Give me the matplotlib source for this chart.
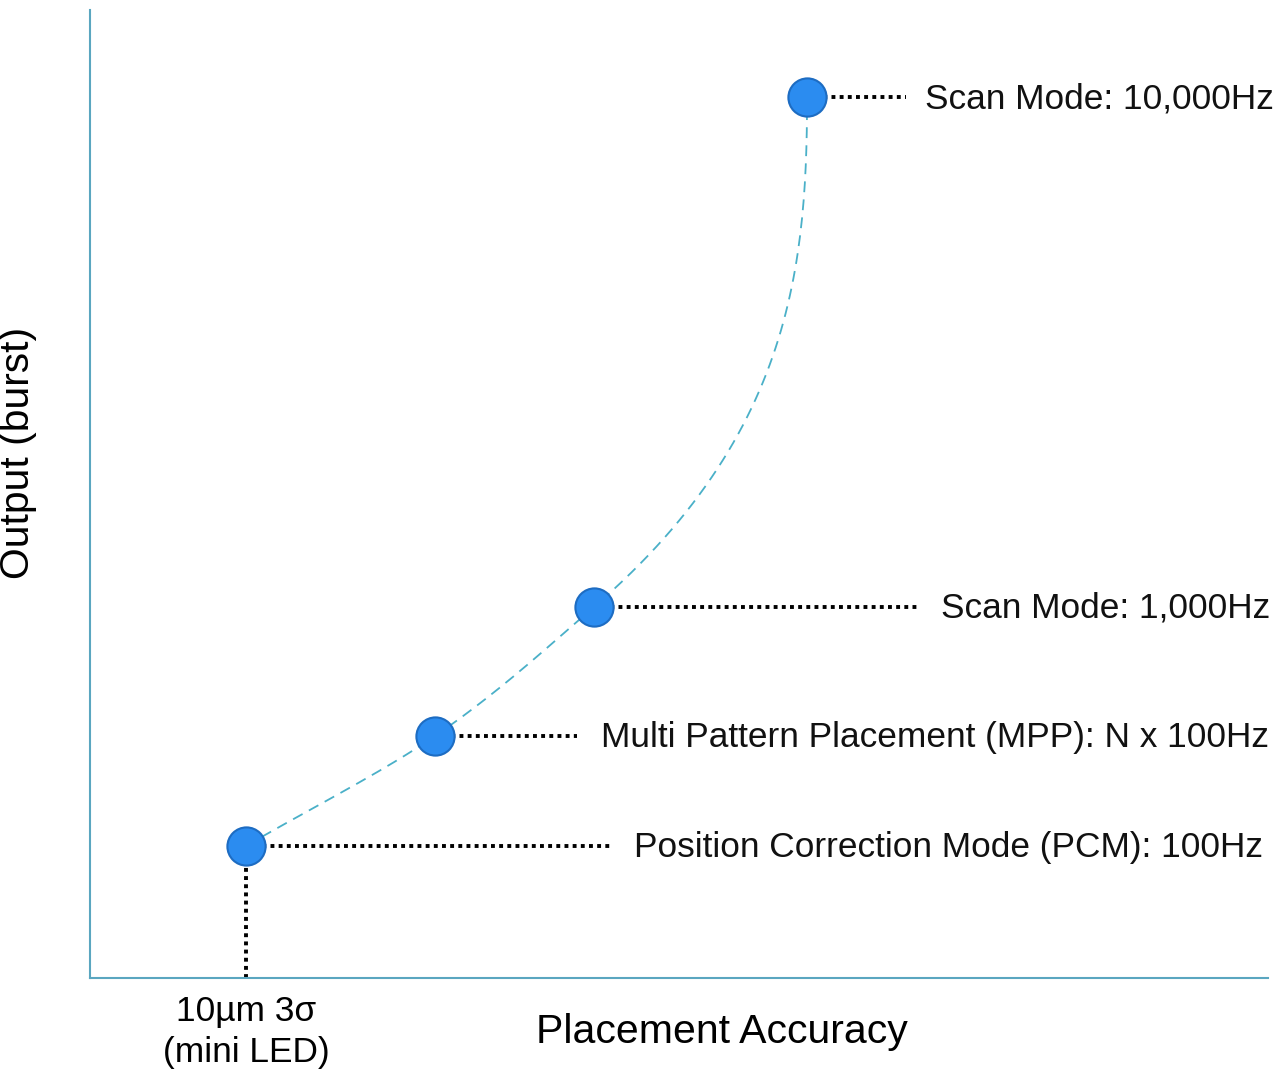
import numpy as np
import matplotlib
matplotlib.use("Agg")
import matplotlib.pyplot as plt

plt.rcParams['font.family'] = ['Liberation Sans', 'DejaVu Sans']

# data (arbitrary units, axes 0..100)
labels = ["Position Correction Mode (PCM): 100Hz",
          "Multi Pattern Placement (MPP): N x 100Hz",
          "Scan Mode: 1,000Hz",
          "Scan Mode: 10,000Hz"]
accuracy = [13.24, 29.29, 42.78, 60.87]
output = [13.64, 25.0, 38.33, 91.0]
leader_end = [44.4, 41.3, 70.5, 69.3]
label_x = [46.2, 43.4, 72.2, 70.9]
slopes = [1.41, 1.2, 0.95, 0.0]   # dx/dy of the guide curve at each point
xtick_label = "10µm 3σ\n(mini LED)"

fig = plt.figure(figsize=(12.8, 10.73), dpi=100)
ax = fig.add_axes([90/1280, (1073-978)/1073, 1178/1280, 968/1073])
ax.set_xlim(0, 100)
ax.set_ylim(0, 100)

spine_c = '#5aa6c0'
for s in ['top', 'right']:
    ax.spines[s].set_visible(False)
for s in ['left', 'bottom']:
    ax.spines[s].set_color(spine_c)
    ax.spines[s].set_linewidth(1.5)
ax.set_xticks([])
ax.set_yticks([])

# guide curve: cubic Hermite x(y)
cx, cy = [], []
for i in range(len(output) - 1):
    y0, y1 = output[i], output[i+1]
    x0, x1 = accuracy[i], accuracy[i+1]
    h = y1 - y0
    t = np.linspace(0, 1, 60)
    h00 = 2*t**3 - 3*t**2 + 1
    h10 = t**3 - 2*t**2 + t
    h01 = -2*t**3 + 3*t**2
    h11 = t**3 - t**2
    x = h00*x0 + h10*h*slopes[i] + h01*x1 + h11*h*slopes[i+1]
    cx.extend(x)
    cy.extend(y0 + t*h)
ax.plot(cx, cy, color='#4ab0c8', lw=1.3, dashes=(6, 4), zorder=2)

# leaders
for xa, ya, xe in zip(accuracy, output, leader_end):
    ax.plot([xa, xe], [ya, ya], color='black', lw=2.8, dashes=(1, 1.1),
            zorder=1)
ax.plot([accuracy[0], accuracy[0]], [0, output[0]], color='black', lw=2.8,
        dashes=(1, 1.1), zorder=1)

ax.plot(accuracy, output, 'o', ms=27.5, mfc='#2b8cf0', mec='#1d6cc2',
        mew=1.5, zorder=3, clip_on=False)

for lx, ya, lab in zip(label_x, output, labels):
    ax.text(lx, ya - 0.15, lab, fontsize=25.4, va='center', ha='left',
            color='#111111')

fig.text(246/1280, 1 - 1032/1073, xtick_label, fontsize=25.4, ha='center',
         va='center', linespacing=1.3)
fig.text(722/1280, 1 - 1032/1073, "Placement Accuracy", fontsize=29.5,
         ha='center', va='center')
fig.text(18/1280, 1 - 453/1073, "Output (burst)", fontsize=29.3,
         ha='center', va='center', rotation=90)

fig.savefig("out.png", dpi=100)
